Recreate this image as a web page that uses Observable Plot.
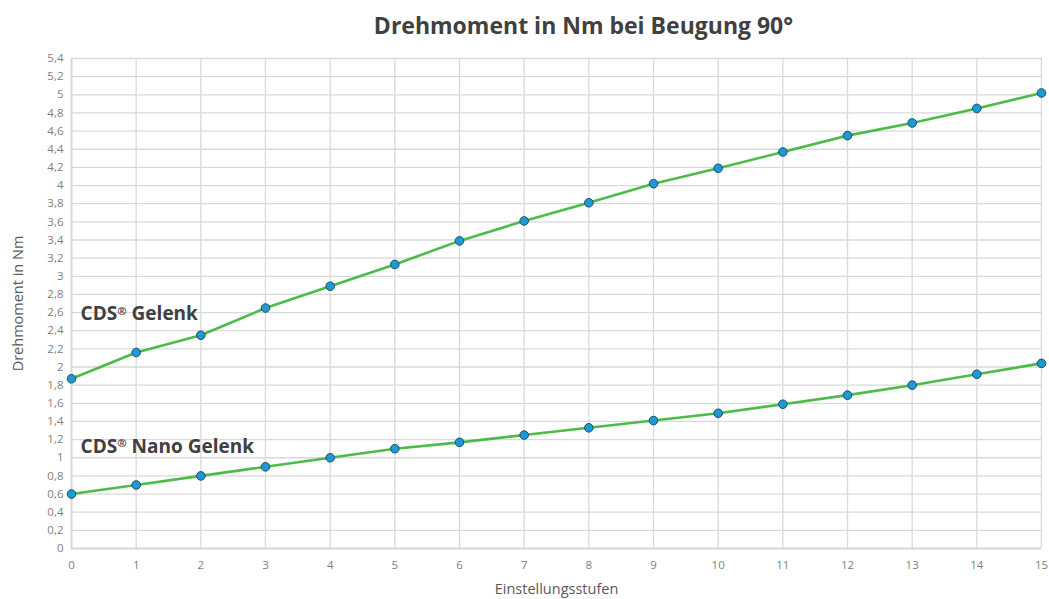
<!DOCTYPE html>
<html>
<head>
<meta charset="utf-8">
<script src="https://cdn.jsdelivr.net/npm/d3@7"></script>
<script src="https://cdn.jsdelivr.net/npm/@observablehq/plot@0.6"></script>
<style>
  body { margin: 0; background: #fff; font-family: "Open Sans", sans-serif; }
  #title { height: 50px; width: 1049px; box-sizing: border-box; padding-left: 118px; text-align: center;
           font-weight: bold; font-size: 23px; color: #404040; line-height: 50px; }
  svg { display: block; }
</style>
</head>
<body>
<div id="title">Drehmoment in Nm bei Beugung 90°</div>
<div id="chart"></div>
<script>
const stufen = [0,1,2,3,4,5,6,7,8,9,10,11,12,13,14,15];
const gelenk = [1.87,2.16,2.35,2.65,2.89,3.13,3.39,3.61,3.81,4.02,4.19,4.37,4.55,4.69,4.85,5.02];
const nanoGelenk = [0.6,0.7,0.8,0.9,1.0,1.1,1.17,1.25,1.33,1.41,1.49,1.59,1.69,1.8,1.92,2.04];
const yTicks = d3.range(0, 5.41, 0.2).map(v => Math.round(v * 10) / 10);
const seriesNames = ["CDS® Gelenk", "CDS® Nano Gelenk"];
const labelX = [0.14, 0.14];
const labelY = [2.58, 1.12];

const data = [];
stufen.forEach((s, i) => data.push({series: seriesNames[0], x: s, y: gelenk[i]}));
stufen.forEach((s, i) => data.push({series: seriesNames[1], x: s, y: nanoGelenk[i]}));
const labels = seriesNames.map((n, i) => ({name: n, x: labelX[i], y: labelY[i]}));

const fmt = d => String(d).replace(".", ",");

const chart = Plot.plot({
  width: 1049,
  height: 549,
  marginLeft: 71,
  marginRight: 8,
  marginTop: 8,
  marginBottom: 51,
  style: {fontFamily: "'Open Sans', sans-serif", background: "#fff"},
  x: {domain: [0, 15], ticks: stufen, label: null},
  y: {domain: [0, 5.4], ticks: yTicks, label: null},
  marks: [
    Plot.gridX(stufen, {stroke: "#d9d9d9", strokeOpacity: 1, strokeWidth: 1.3}),
    Plot.gridY(yTicks, {stroke: "#d9d9d9", strokeOpacity: 1, strokeWidth: 1.3}),
    Plot.ruleY([0], {stroke: "#d9d9d9", strokeWidth: 2}),
    Plot.ruleX([0], {stroke: "#d9d9d9", strokeWidth: 2}),
    Plot.axisX(stufen, {tickSize: 0, tickPadding: 12, fontSize: 11.5, fill: "#7f7f7f", tickFormat: d => String(d),
      label: "Einstellungsstufen", labelAnchor: "center", labelOffset: 45, labelArrow: "none"}),
    Plot.axisY(yTicks, {tickSize: 0, tickPadding: 8, fontSize: 11.5, fill: "#7f7f7f", tickFormat: fmt,
      label: "Drehmoment in Nm", labelAnchor: "center", labelOffset: 59, labelArrow: "none"}),
    Plot.line(data, {x: "x", y: "y", z: "series", stroke: "#4cbb47", strokeWidth: 2.6}),
    Plot.dot(data, {x: "x", y: "y", r: 4.3, fill: "#1b9ad6", stroke: "#1f4e5e", strokeWidth: 1}),
    Plot.text(labels, {x: "x", y: "y", text: "name", textAnchor: "start", fontSize: 19, fontWeight: "bold", fill: "#404040"})
  ]
});
document.getElementById("chart").appendChild(chart);
// axis label styling
d3.select(chart).selectAll("g[aria-label='x-axis label'] text, g[aria-label='y-axis label'] text")
  .attr("font-size", 14.5).attr("fill", "#595959");
// superscript ® in annotation labels
d3.select(chart).selectAll("g[aria-label='text'] text").each(function() {
  const t = this.textContent;
  const parts = t.split("®");
  if (parts.length === 2) {
    const sel = d3.select(this);
    sel.text(null);
    sel.append("tspan").text(parts[0]);
    sel.append("tspan").attr("font-size", "0.6em").attr("dy", "-0.5em").text("®");
    sel.append("tspan").attr("dy", "0.3em").text(parts[1]);
  }
});
</script>
</body>
</html>
